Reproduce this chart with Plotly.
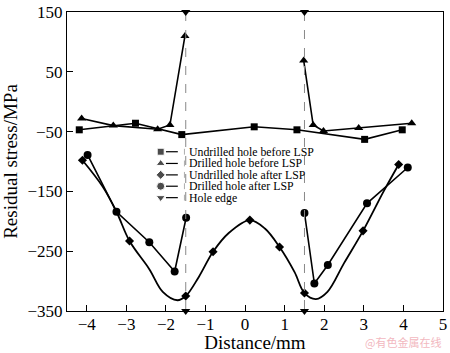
import plotly.graph_objects as go

# ---- data ----
und_before_x = [-4.19, -2.77, -1.6, 0.23, 1.31, 3.02, 3.97]
und_before_y = [-47, -36, -55, -42, -47, -63, -47]

dri_before_x = [-4.13, -3.33, -2.21, -1.9, -1.52, None, 1.48, 1.72, 1.98, 2.87, 4.21]
dri_before_y = [-28, -40, -46, -39, 110, None, 69, -39, -49, -44, -36]

und_after_x = [-4.11, -2.92, -1.5, -0.81, 0.12, 0.87, 1.5, 2.98, 3.88]
und_after_y = [-98, -233, -325, -251, -198, -243, -320, -216, -105]

# smooth fitted curve through the undrilled-after-LSP points
fit_x = [-4.11, -3.6, -3.25, -2.92, -2.42, -2.08, -1.71, -1.5, -1.17, -0.81, -0.42,
         0.12, 0.5, 0.87, 1.25, 1.5, 1.79, 2.08, 2.5, 2.98, 3.5, 3.88]
fit_y = [-98, -142, -184, -233, -280, -318, -332, -325, -293, -251, -220,
         -198, -212, -243, -285, -320, -330, -318, -270, -216, -150, -105]

dri_after_x = [-3.98, -3.25, -2.42, -1.78, -1.49, None, 1.5, 1.75, 2.09, 3.08, 4.11]
dri_after_y = [-89, -184, -235, -284, -194, None, -186, -304, -273, -170, -110]

hole_x = [-1.5, -1.5, None, 1.5, 1.5]
hole_y = [150, -350, None, 150, -350]

x_ticks = [-4, -3, -2, -1, 0, 1, 2, 3, 4, 5]
y_ticks = [150, 50, -50, -150, -250, -350]

legend_names = ["Undrilled hole before LSP", "Drilled hole before LSP",
                "Undrilled hole after LSP", "Drilled hole after LSP", "Hole edge"]
legend_symbols = ["square", "triangle-up", "diamond", "circle", "triangle-down"]
legend_sizes = [7, 8, 7, 8, 8]

FONT = "Liberation Serif"

fig = go.Figure()

fig.add_trace(go.Scatter(x=und_before_x, y=und_before_y, mode="lines+markers",
                         name=legend_names[0], showlegend=False,
                         line=dict(color="black", width=1.6),
                         marker=dict(symbol="square", size=7, color="black")))
fig.add_trace(go.Scatter(x=dri_before_x, y=dri_before_y, mode="lines+markers",
                         name=legend_names[1], showlegend=False,
                         line=dict(color="black", width=1.6),
                         marker=dict(symbol="triangle-up", size=8, color="black")))
fig.add_trace(go.Scatter(x=fit_x, y=fit_y, mode="lines", showlegend=False,
                         line=dict(color="black", width=1.8, shape="spline", smoothing=1.0),
                         hoverinfo="skip"))
fig.add_trace(go.Scatter(x=und_after_x, y=und_after_y, mode="markers",
                         name=legend_names[2], showlegend=False,
                         marker=dict(symbol="diamond", size=7, color="black")))
fig.add_trace(go.Scatter(x=dri_after_x, y=dri_after_y, mode="lines+markers",
                         name=legend_names[3], showlegend=False,
                         line=dict(color="black", width=1.6),
                         marker=dict(symbol="circle", size=8, color="black")))
fig.add_trace(go.Scatter(x=hole_x, y=hole_y, mode="lines+markers",
                         name=legend_names[4], cliponaxis=False, showlegend=False,
                         line=dict(color="#888888", width=1, dash="dash"),
                         marker=dict(symbol="triangle-down", size=8, color="black")))

# ---- compact manual legend (overlay axis in paper fractions) ----
L = 67; R = 447; T = 7; B = 313
def px2fx(px): return (px - L) / (R - L)
def py2fy(py): return (B - py) / (B - T)
row_py = [150, 162, 173.7, 185.3, 197]
fig.add_trace(go.Scatter(x=[px2fx(161.7)] * 5, y=[py2fy(p) for p in row_py],
                         xaxis="x2", yaxis="y2", mode="markers", showlegend=False,
                         hoverinfo="skip", cliponaxis=False,
                         marker=dict(symbol=legend_symbols, size=legend_sizes, color="black")))
shapes = []
annotations = []
for name, p in zip(legend_names, row_py):
    shapes.append(dict(type="line", xref="paper", yref="paper",
                       x0=px2fx(167), x1=px2fx(179), y0=py2fy(p), y1=py2fy(p),
                       line=dict(color="black", width=1.2)))
    shapes.append(dict(type="line", xref="paper", yref="paper",
                       x0=px2fx(185.7), x1=px2fx(185.7), y0=py2fy(p - 3), y1=py2fy(p + 3),
                       line=dict(color="#999999", width=0.8)))
    annotations.append(dict(text=name, xref="paper", yref="paper",
                            x=px2fx(188.5), y=py2fy(p), xanchor="left", yanchor="middle",
                            showarrow=False, font=dict(family=FONT, size=11.8, color="black")))

annotations.append(dict(text="@有色金属在线", xref="paper", yref="paper",
                        x=1.0, y=-0.104, xanchor="right", yanchor="middle",
                        showarrow=False,
                        font=dict(family="Noto Sans CJK SC", size=11, color="#f2b8c0")))

fig.update_layout(
    width=450, height=353,
    margin=dict(l=L, r=450 - R, t=T, b=353 - B),
    paper_bgcolor="white", plot_bgcolor="white",
    font=dict(family=FONT, color="black", size=17),
    showlegend=False,
    xaxis=dict(range=[-4.5, 5], tickvals=x_ticks,
               ticktext=[str(v).replace("-", "\u2212") for v in x_ticks],
               ticks="inside", ticklen=6, tickwidth=1, tickcolor="black",
               showline=True, linecolor="black", linewidth=1.2, mirror=True,
               showgrid=False, zeroline=False, ticklabeloverflow="allow",
               ticklabelstandoff=-3,
               title=dict(text="Distance/mm", font=dict(size=19), standoff=3),
               tickfont=dict(size=17)),
    yaxis=dict(range=[-350, 150], tickvals=y_ticks,
               ticktext=[str(v).replace("-", "\u2212") for v in y_ticks],
               ticks="inside", ticklen=6, tickwidth=1, tickcolor="black",
               showline=True, linecolor="black", linewidth=1.2, mirror=True,
               showgrid=False, zeroline=False, ticklabeloverflow="allow",
               title=dict(text="Residual stress/MPa", font=dict(size=19), standoff=4),
               tickfont=dict(size=17)),
    xaxis2=dict(range=[0, 1], overlaying="x", anchor="y2", visible=False, fixedrange=True),
    yaxis2=dict(range=[0, 1], overlaying="y", anchor="x2", visible=False, fixedrange=True),
    shapes=shapes,
    annotations=annotations,
)

fig.write_html("out.html")
